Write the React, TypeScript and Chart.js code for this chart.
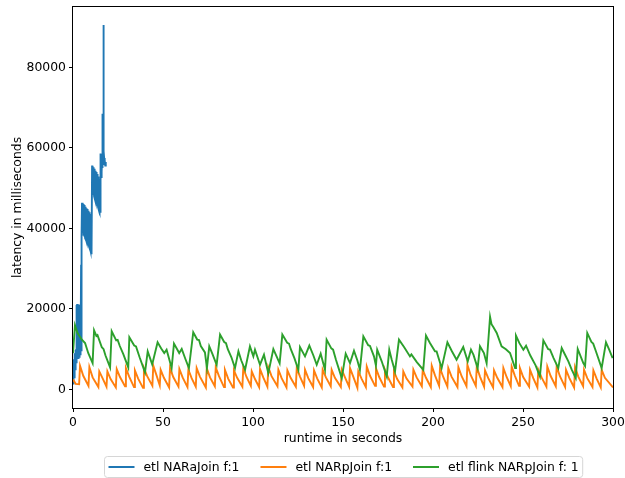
import { useEffect, useRef } from "react";
import { Chart, registerables } from "chart.js";

Chart.register(...registerables);

const FONT_FAMILY = "'DejaVu Sans', 'Liberation Sans', sans-serif";
const FONT_SIZE = 12.4;

const seriesNames = ["etl NARaJoin f:1", "etl NARpJoin f:1", "etl flink NARpJoin f: 1"];
const seriesColors = ["#1f77b4", "#ff7f0e", "#2ca02c"];

const xTicks = [0, 50, 100, 150, 200, 250, 300];
const yTicks = [0, 20000, 40000, 60000, 80000];
const xRange = [0, 300];
const yRange = [-4600, 95000];

// etl NARaJoin f:1 — [runtime s, latency ms]; the run stops after ~18 s
const aJoin: [number, number][] = [
  [0.0, 1500], [0.1, 6000], [0.2, 2000], [0.3, 7000], [0.4, 2500], [0.5, 7500], [0.6, 3000],
  [0.7, 8000], [0.8, 3500], [0.9, 8500], [1.0, 4500], [1.1, 9000], [1.2, 5000], [1.3, 9500],
  [1.4, 5500], [1.5, 9800], [1.6, 6000], [1.7, 10000], [1.8, 6500], [1.9, 10200], [2.0, 7000],
  [2.1, 21000], [2.2, 7500], [2.3, 21200], [2.4, 7600], [2.5, 21100], [2.6, 7700], [2.7, 21000],
  [2.8, 7800], [2.9, 21200], [3.0, 7900], [3.1, 21000], [3.2, 8000], [3.3, 20900], [3.4, 8100],
  [3.5, 21000], [3.6, 8200], [3.7, 20800], [3.8, 8400], [3.9, 20900], [4.0, 8500], [4.1, 20700],
  [4.2, 8700], [4.3, 20500], [4.4, 9000], [4.5, 31000], [4.6, 9500], [4.7, 30000], [4.8, 10000],
  [4.9, 38000],
  [5.0, 46400], [5.1, 39300], [5.2, 46300], [5.3, 39200], [5.4, 46200], [5.5, 38900], [5.6, 46100],
  [5.7, 38800], [5.8, 45900], [5.9, 38500], [6.0, 45900], [6.1, 38200], [6.2, 45800], [6.3, 38100],
  [6.4, 45600], [6.5, 37900], [6.6, 45500], [6.7, 37600], [6.8, 45400], [6.9, 37500], [7.0, 45300],
  [7.1, 37300], [7.2, 45100], [7.3, 37100], [7.4, 45000], [7.5, 36800], [7.6, 44900], [7.7, 36700],
  [7.8, 44800], [7.9, 36500], [8.0, 44600], [8.1, 36300], [8.2, 44500], [8.3, 36000], [8.4, 44400],
  [8.5, 35900], [8.6, 44300], [8.7, 35700], [8.8, 44100], [8.9, 35500], [9.0, 44000], [9.1, 35200],
  [9.2, 43900], [9.3, 35100], [9.4, 43800], [9.5, 34900], [9.6, 43600], [9.7, 34700], [9.8, 43500],
  [9.9, 34400], [10.0, 43400], [10.1, 34300], [10.2, 43200], [10.3, 34000], [10.4, 43100], [10.5, 33600],
  [10.6, 55600], [10.7, 49300], [10.8, 55500], [10.9, 49000], [11.0, 55400], [11.1, 48800],
  [11.2, 55200], [11.3, 48500], [11.4, 55100], [11.5, 48300], [11.6, 54900], [11.7, 48000],
  [11.8, 54800], [11.9, 47800], [12.0, 54600], [12.1, 47500], [12.2, 54500], [12.3, 47300],
  [12.4, 54300], [12.5, 47000], [12.6, 54100], [12.7, 46800], [12.8, 54000], [12.9, 46500],
  [13.0, 53800], [13.1, 46300], [13.2, 53600], [13.3, 46000], [13.4, 53500], [13.5, 45800],
  [13.6, 53300], [13.7, 45500], [13.8, 53100], [13.9, 45300], [14.0, 52900], [14.1, 45000],
  [14.2, 52700], [14.3, 44800], [14.4, 52500], [14.5, 44600], [14.6, 52300], [14.7, 44400],
  [14.8, 52100], [14.9, 44200], [15.0, 51900], [15.1, 44000], [15.2, 51800], [15.3, 43900],
  [15.4, 58600], [15.5, 52000], [15.6, 58500], [15.7, 52500], [15.8, 58400], [15.9, 53000],
  [16.0, 58200], [16.1, 54000], [16.2, 58000], [16.3, 55000], [16.5, 68500], [16.7, 56000],
  [16.9, 90500], [17.1, 56500], [17.3, 57500], [17.5, 55800], [17.7, 57000], [17.9, 55600],
  [18.1, 56500], [18.3, 55800],
];

// etl NARpJoin f:1 — short sawtooth cycles (peak, mid-decay, trough)
const pJoin: [number, number][] = [
  [0.0, 2500], [1.5, 1400], [3.4, 1300],
  [3.9, 5900], [5.7, 3400], [8.6, 900],
  [9.1, 5560], [10.9, 3000], [14.1, 600],
  [14.6, 4490], [16.4, 2800], [18.6, 700],
  [19.1, 4490], [20.9, 2600], [23.8, 500],
  [24.3, 5070], [26.1, 3100], [28.9, 800],
  [29.4, 5310], [31.2, 3200], [33.9, 600],
  [34.4, 4740], [36.2, 2700], [38.9, 400],
  [39.4, 5310], [41.2, 3300], [44.1, 900],
  [44.6, 5900], [46.4, 3500], [48.2, 1000],
  [48.7, 4900], [50.5, 2900], [53.4, 500],
  [53.9, 5310], [55.7, 3100], [58.6, 700],
  [59.1, 5070], [60.9, 3000], [63.6, 600],
  [64.1, 4900], [65.9, 2800], [68.2, 700],
  [68.7, 5310], [70.5, 3200], [73.8, 500],
  [74.3, 5310], [76.1, 3000], [78.8, 800],
  [79.3, 5480], [81.1, 3300], [83.9, 600],
  [84.4, 4900], [86.2, 2700], [88.9, 500],
  [89.4, 4740], [91.2, 2900], [94.1, 700],
  [94.6, 5310], [96.4, 3100], [98.8, 900],
  [99.3, 4490], [101.1, 2600], [103.4, 600],
  [103.9, 5070], [105.7, 3000], [108.0, 700],
  [108.5, 5500], [110.3, 3300], [113.6, 800],
  [114.1, 4900], [115.9, 2800], [118.6, 500],
  [119.1, 4740], [120.9, 2900], [123.8, 700],
  [124.3, 5310], [126.1, 3200], [128.4, 900],
  [128.9, 4900], [130.7, 2800], [133.4, 600],
  [133.9, 4740], [135.7, 2700], [138.2, 500],
  [138.7, 4900], [140.5, 3000], [143.2, 800],
  [143.7, 4900], [145.5, 2900], [148.8, 600],
  [149.3, 4900], [151.1, 3000], [153.4, 700],
  [153.9, 5310], [155.7, 3200], [158.0, 400],
  [158.5, 4490], [160.3, 2700], [162.7, 600],
  [163.2, 5730], [165.0, 3400], [167.8, 900],
  [168.3, 5310], [170.1, 3100], [172.8, 700],
  [173.3, 4900], [175.1, 2900], [177.8, 600],
  [178.3, 4490], [180.1, 2600], [183.0, 500],
  [183.5, 4490], [185.3, 2700], [188.6, 700],
  [189.1, 4900], [190.9, 3000], [193.8, 800],
  [194.3, 4900], [196.1, 2900], [198.8, 600],
  [199.3, 5900], [201.1, 3500], [203.4, 900],
  [203.9, 5310], [205.7, 3100], [208.0, 700],
  [208.5, 5310], [210.3, 3200], [213.6, 600],
  [214.1, 5560], [215.9, 3300], [218.6, 800],
  [219.1, 6150], [220.9, 3600], [223.8, 900],
  [224.3, 5560], [226.1, 3200], [228.4, 700],
  [228.9, 4740], [230.7, 2800], [233.4, 500],
  [233.9, 4740], [235.7, 2900], [238.6, 600],
  [239.1, 5310], [240.9, 3100], [243.2, 800],
  [243.7, 5730], [245.5, 3400], [247.8, 900],
  [248.3, 5310], [250.1, 3100], [253.4, 700],
  [253.9, 4900], [255.7, 2800], [258.0, 500],
  [258.5, 4900], [260.3, 3000], [263.0, 700],
  [263.5, 5730], [265.3, 3400], [268.2, 800],
  [268.7, 5730], [270.5, 3300], [273.4, 600],
  [273.9, 4900], [275.7, 2900], [278.4, 500],
  [278.9, 5560], [280.7, 3200], [283.4, 800],
  [283.9, 4900], [285.7, 2800], [288.6, 600],
  [289.1, 4740], [290.9, 2700], [293.2, 500],
  [293.7, 4900], [295.5, 2900], [300.0, 500],
];

// etl flink NARpJoin f: 1 — longer sawtooth cycles with small ripples on the decay
const flinkJoin: [number, number][] = [
  [0, 9000], [1.1, 15950], [2.5, 14000], [3.4, 13400], [4.8, 12460], [6.7, 11540], [8.5, 9000], [10.9, 6560],
  [11.7, 14700], [13, 13300], [13.6, 13500], [16, 10500], [17, 10000], [18, 8500], [20.6, 5480],
  [21.5, 14450], [24, 12200], [24.8, 12300], [26, 10800], [28, 8700], [30.7, 5480],
  [31.3, 12960], [34, 10900], [35, 10700], [37, 8000], [40, 4240],
  [41.5, 9470], [44, 6230],
  [47, 11710], [49, 10200], [50.7, 9050], [52, 9880], [54.8, 5310],
  [56.1, 11380], [59, 9050], [60.4, 10050], [62.5, 7500], [64.4, 5310],
  [66.8, 14200], [69, 12400], [70, 12300], [71, 10800], [73.3, 9220], [74.4, 5310],
  [75.7, 10720], [77.5, 8800], [79.8, 6150],
  [81.7, 13630], [84, 11800], [85, 11500], [86, 10000], [88, 8000], [90, 5310],
  [91.9, 9470], [93.5, 7200], [95.6, 4900],
  [98.3, 10720], [100.2, 8220], [101.1, 9880], [103.9, 6150], [106.1, 8640], [108.5, 4070],
  [111.3, 10050], [113.1, 8220], [114.8, 6500],
  [116.3, 13630], [119, 11600], [120, 11400], [121, 10000], [123, 7800], [125.2, 4900],
  [126.1, 10550], [128.9, 8220], [131.3, 10890], [133.5, 8500], [135.4, 6150], [137.6, 8890], [140, 4900],
  [140.9, 12380], [143.5, 10200], [144.5, 9900], [146, 7500], [149.3, 2820],
  [151.5, 8890], [153.9, 6560], [156.1, 9630], [158, 7200], [159.4, 4900],
  [161.3, 13210], [164, 11000], [165, 10800], [167.2, 8220], [168.3, 5900],
  [169, 9880], [171.5, 7000], [174.3, 3240],
  [175.7, 9880], [177, 7500], [178.9, 4490],
  [181.1, 12380], [184, 10500], [187.2, 8220], [188, 8700], [191, 6800], [194.6, 4900],
  [196.1, 13380], [198.3, 11540], [201.1, 9470], [202, 9470], [204.8, 5310],
  [208, 11710], [210.5, 9500], [213.1, 7400],
  [216.8, 10550], [219.3, 6980], [221.1, 9880], [222.5, 8600], [224.8, 5310],
  [226.1, 10720], [228.3, 9050], [229.8, 6500],
  [231.7, 18020], [232.5, 16200], [233.5, 15500], [235.4, 14040], [238.1, 10720], [240.5, 10000], [242.8, 9050], [245.6, 5310],
  [246.1, 13380], [248, 11500], [250.2, 9880], [251.7, 10890], [254, 8500], [257, 6000], [259.4, 3240],
  [261.3, 12210], [264, 10000], [265, 9900], [267, 7800], [269.6, 5310],
  [271.5, 10300], [273.5, 8500], [275.2, 6980], [277, 5000], [279.3, 2820],
  [280.4, 10050], [283.5, 6560], [284.5, 5800],
  [285.7, 14040], [288, 11800], [289, 11400], [290.5, 9500], [293.7, 5310],
  [296.1, 11710], [298, 9800], [299.8, 7810],
];

const seriesData = [aJoin, pJoin, flinkJoin];

const font = { family: FONT_FAMILY, size: FONT_SIZE };

// Four black spines around the plot area plus a framed legend strip underneath.
const frameAndLegend = {
  id: "frameAndLegend",
  afterDatasetsDraw(chart: any) {
    const { ctx, chartArea: a } = chart;
    ctx.save();
    ctx.strokeStyle = "#000";
    ctx.lineWidth = 1;
    ctx.strokeRect(Math.round(a.left) - 0.5, Math.round(a.top) - 0.5, Math.round(a.right - a.left) + 1, Math.round(a.bottom - a.top) + 1);
    ctx.restore();
  },
  afterDraw(chart: any) {
    const { ctx, chartArea: a } = chart;
    ctx.save();
    ctx.font = `${FONT_SIZE}px ${FONT_FAMILY}`;
    const lineLen = 26;
    const gap = 9;
    const sep = 21;
    const padX = 4;
    const widths = seriesNames.map((n) => ctx.measureText(n).width);
    const inner = widths.reduce((s, w) => s + lineLen + gap + w, 0) + sep * (seriesNames.length - 1);
    const boxW = inner + padX * 2;
    const boxH = 21;
    const boxX = Math.round((a.left + a.right) / 2 - boxW / 2) + 0.5;
    const boxY = Math.round(a.bottom + 48) + 0.5;
    ctx.beginPath();
    ctx.roundRect(boxX, boxY, boxW, boxH, 3);
    ctx.fillStyle = "rgba(255,255,255,0.8)";
    ctx.fill();
    ctx.strokeStyle = "#d6d6d6";
    ctx.lineWidth = 1;
    ctx.stroke();
    let x = boxX + padX;
    const cy = boxY + boxH / 2;
    seriesNames.forEach((name, i) => {
      ctx.beginPath();
      ctx.moveTo(x, cy);
      ctx.lineTo(x + lineLen, cy);
      ctx.strokeStyle = seriesColors[i];
      ctx.lineWidth = 2;
      ctx.stroke();
      ctx.fillStyle = "#000";
      ctx.textBaseline = "middle";
      ctx.textAlign = "left";
      ctx.fillText(name, x + lineLen + gap, cy + 0.5);
      x += lineLen + gap + widths[i] + sep;
    });
    ctx.restore();
  },
};

export default function App() {
  const canvasRef = useRef<HTMLCanvasElement | null>(null);

  useEffect(() => {
    if (!canvasRef.current) return;
    const chart = new Chart(canvasRef.current, {
      type: "line",
      data: {
        datasets: seriesData.map((pts, i) => ({
          label: seriesNames[i],
          data: pts.map(([x, y]) => ({ x, y })),
          borderColor: seriesColors[i],
          backgroundColor: seriesColors[i],
          borderWidth: 1.9,
          pointRadius: 0,
          tension: 0,
          fill: false,
          order: 3 - i,
        })),
      },
      options: {
        animation: false,
        responsive: false,
        devicePixelRatio: 1,
        layout: { padding: { left: 0, right: 12, top: 7, bottom: 30 } },
        plugins: { legend: { display: false }, tooltip: { enabled: false } },
        scales: {
          x: {
            type: "linear",
            min: xRange[0],
            max: xRange[1],
            afterBuildTicks: (scale: any) => {
              scale.ticks = xTicks.map((value) => ({ value }));
            },
            afterFit: (scale: any) => {
              scale.height = 40;
              scale.paddingLeft = 0;
              scale.paddingRight = 0;
            },
            grid: { drawOnChartArea: false, drawTicks: true, tickLength: 4, color: "#000", lineWidth: 1 },
            border: { display: false },
            ticks: { color: "#000", font, padding: 3, maxRotation: 0, callback: (v: any) => String(v) },
            title: { display: true, text: "runtime in seconds", color: "#000", font, padding: { top: 0, bottom: 2 } },
          },
          y: {
            type: "linear",
            min: yRange[0],
            max: yRange[1],
            afterBuildTicks: (scale: any) => {
              scale.ticks = yTicks.map((value) => ({ value }));
            },
            afterFit: (scale: any) => {
              scale.width = 73;
              scale.paddingTop = 0;
              scale.paddingBottom = 0;
            },
            grid: { drawOnChartArea: false, drawTicks: true, tickLength: 4, color: "#000", lineWidth: 1 },
            border: { display: false },
            ticks: { color: "#000", font, padding: 3, callback: (v: any) => String(v) },
            title: { display: true, text: "latency in milliseconds", color: "#000", font, padding: { top: 10, bottom: 0 } },
          },
        },
      },
      plugins: [frameAndLegend],
    });
    return () => chart.destroy();
  }, []);

  return (
    <div style={{ position: "fixed", left: 0, top: 0, width: 625, height: 478, background: "#fff" }}>
      <canvas ref={canvasRef} width={625} height={478} />
    </div>
  );
}
